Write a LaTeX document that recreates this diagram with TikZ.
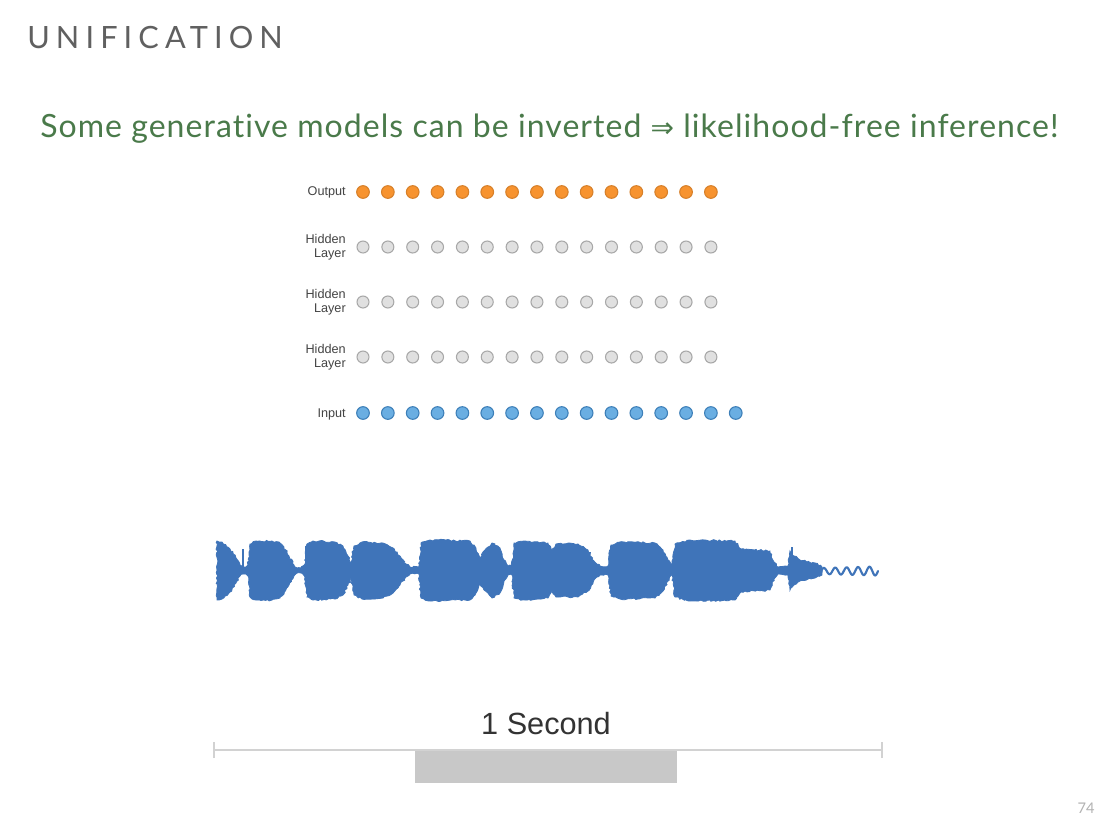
\documentclass[tikz,border=0pt]{standalone}
\usepackage{fontspec}
\setmainfont{Lato}
\newfontfamily\titlefont[LetterSpace=20]{Lato}
\newfontfamily\subfont[LetterSpace=3.3, RawFeature={-liga}]{Lato}
\newfontfamily\helv{Liberation Sans}
\newfontfamily\symfont{DejaVu Sans}
\usetikzlibrary{decorations.pathmorphing}
\definecolor{titlegray}{HTML}{606060}
\definecolor{subgreen}{HTML}{4A7A4A}
\definecolor{orfill}{HTML}{F7932F}
\definecolor{ordraw}{HTML}{D7802A}
\definecolor{grfill}{HTML}{E0E0E0}
\definecolor{grdraw}{HTML}{A8A8A8}
\definecolor{blfill}{HTML}{6AAEE2}
\definecolor{bldraw}{HTML}{3D7FB8}
\definecolor{wavec}{HTML}{3F74B9}
\definecolor{bargray}{HTML}{D2D2D2}
\definecolor{boxgray}{HTML}{C8C8C8}
\definecolor{labgray}{HTML}{444444}
\tikzset{
  unit/.style={circle, inner sep=0pt, minimum size=9.5pt, line width=0.8pt},
  outunit/.style={unit, fill=orfill, draw=ordraw},
  hidunit/.style={unit, fill=grfill, draw=grdraw, minimum size=9pt},
  inunit/.style={unit, fill=blfill, draw=bldraw},
  layerlab/.style={anchor=east, align=right, font=\helv\fontsize{9.5}{10.8}\selectfont, text=labgray, inner sep=0pt},
  wavefill/.style={fill=wavec, draw=wavec, line width=0.6pt, decorate, decoration={random steps, segment length=1.6pt, amplitude=0.7pt}},
  wavewig/.style={draw=wavec, line width=1.6pt, line cap=round},
}
\begin{document}
\begin{tikzpicture}[x=0.75pt,y=-0.75pt]
\useasboundingbox (0,0) rectangle (1096,822);
\fill[white] (0,0) rectangle (1096,822);

% title
\node[anchor=base west, inner sep=0pt, text=titlegray, font=\titlefont\fontsize{23}{27}\selectfont] (title) at (27,48) {UNIFICATION};

% subtitle
\node[anchor=base west, inner sep=0pt, text=subgreen, font=\subfont\fontsize{24}{28}\selectfont] (sub) at (40,137) {Some generative models can be inverted {\symfont\fontsize{21}{24}\selectfont ⇒} likelihood-free inference!};

% network
\foreach \i in {1,...,15} {
  \pgfmathsetmacro{\xx}{363+(\i-1)*24.85}
  \node[outunit] (o\i) at (\xx,192) {};
  \node[hidunit] (ha\i) at (\xx,247) {};
  \node[hidunit] (hb\i) at (\xx,302) {};
  \node[hidunit] (hc\i) at (\xx,357) {};
}
\foreach \i in {1,...,16} {
  \pgfmathsetmacro{\xx}{363+(\i-1)*24.85}
  \node[inunit] (in\i) at (\xx,413) {};
}
\node[layerlab] (lo) at (346,192) {Output};
\node[layerlab] (la) at (346,247) {Hidden\\Layer};
\node[layerlab] (lb) at (346,302) {Hidden\\Layer};
\node[layerlab] (lc) at (346,357) {Hidden\\Layer};
\node[layerlab] (li) at (346,414) {Input};

% waveform
\path[wavefill] plot coordinates {
(217,541) (222,542) (230,549) (236,558) (240,565) (243,567) (246,567) (248,565) (250,544) (256,541) (272,541) (280,543) (284,547) (289,556) (294,565) (297,568) (301,568) (305,564) (307,544) (313,541) (335,542) (343,546) (348,556) (351,563) (354,546) (362,542) (383,543) (393,548) (400,556) (406,564) (410,567) (419,567) (421,543) (430,540) (470,541) (476,548) (480,558) (484,551) (492,543) (500,548) (504,560) (508,566) (512,566) (514,543) (525,541) (548,543) (552,550) (556,544) (578,544) (588,550) (594,561) (600,566) (608,566) (611,545) (620,542) (655,543) (663,550) (668,560) (672,567) (675,544) (690,540) (735,541) (741,549) (770,551) (774,562) (778,567) (788,566) (790,551) (794,556) (800,560) (815,563) (822,567)
(822,575) (815,578) (800,581) (794,585) (790,590) (788,575) (778,574) (774,579) (770,590) (741,592) (735,600) (690,601) (675,597) (672,574) (668,581) (663,591) (655,598) (620,599) (611,596) (608,575) (600,575) (594,580) (588,591) (578,597) (556,597) (552,591) (548,598) (525,600) (514,598) (512,575) (508,575) (504,581) (500,593) (492,598) (484,590) (480,583) (476,593) (470,600) (430,601) (421,598) (419,574) (410,574) (406,577) (400,585) (393,593) (383,598) (362,599) (354,595) (351,578) (348,585) (343,595) (335,599) (313,600) (307,597) (305,577) (301,573) (297,573) (294,576) (289,585) (284,594) (280,598) (272,600) (256,600) (250,597) (248,576) (246,574) (243,574) (240,576) (236,583) (230,592) (222,599) (217,600)
} -- cycle;
\draw[wavewig] plot[domain=0:57, samples=120, smooth] ({821+\x}, {571 - (3+1.5*\x/57)*sin(\x*31.58)});
% small spikes
\draw[wavec, line width=1pt] (243,571) -- (243,549);
\draw[wavec, line width=1pt] (306,571) -- (306,546);
\draw[wavec, line width=1pt] (792,574) -- (792,547);

% time scale
\coordinate (tl) at (214,750);
\coordinate (tr) at (882,750);
\fill[boxgray] (415,750) rectangle (677,783);
\draw[bargray, line width=2.2pt] (tl) -- (tr);
\draw[bargray, line width=1.5pt] ([yshift=-6pt]tl) -- ([yshift=6pt]tl);
\draw[bargray, line width=1.5pt] ([yshift=-6pt]tr) -- ([yshift=6pt]tr);
\node[inner sep=0pt, text=black!80, font=\helv\fontsize{23}{27}\selectfont] (sec) at (546,724) {1 Second};

% page number
\node[inner sep=0pt, text=black!30, font=\fontsize{11}{13}\selectfont] (pg) at (1086,808) {74};
\end{tikzpicture}
\end{document}
